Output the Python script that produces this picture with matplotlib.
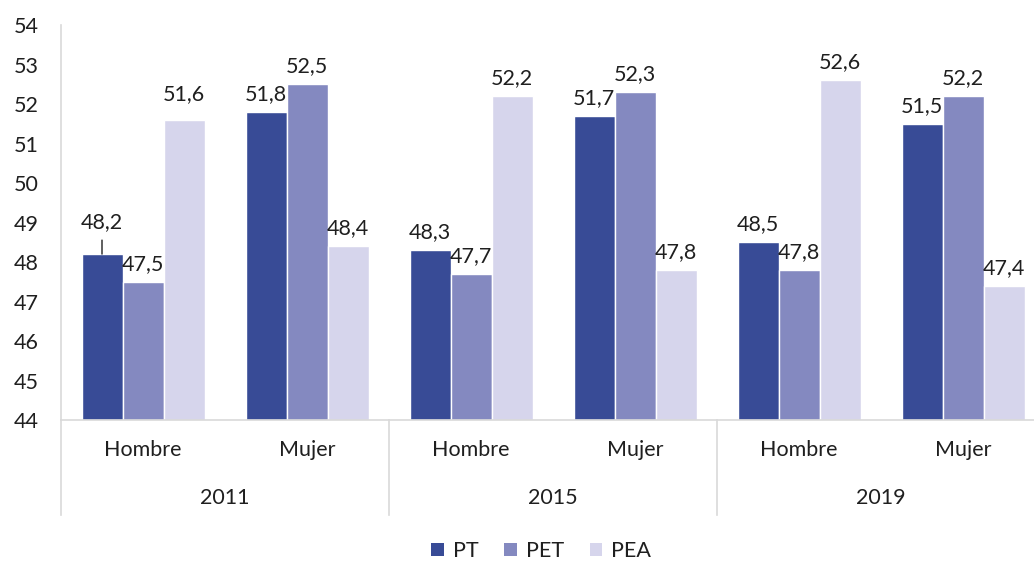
import matplotlib.pyplot as plt
from matplotlib.patches import Patch
import numpy as np

# datos
years = ['2011', '2015', '2019']
sexes = ['Hombre', 'Mujer']
series = ['PT', 'PET', 'PEA']
pt = [48.2, 51.8, 48.3, 51.7, 48.5, 51.5]
pet = [47.5, 52.5, 47.7, 52.3, 47.8, 52.2]
pea = [51.6, 48.4, 52.2, 47.8, 52.6, 47.4]

colors = ['#384B96', '#8489C0', '#D6D5EC']
txt = '#1f1f1f'
grid = '#D9D9D9'
fs = 15.5

plt.rcParams['font.family'] = ['Lato', 'DejaVu Sans']

fig = plt.figure(figsize=(10.34, 5.62), dpi=100)
W, H = 1034, 562
ax = fig.add_axes([61 / W, 1 - 420 / H, 984 / W, 395 / H])

n = len(pt)
x = np.arange(n) + 0.5
bw = 0.25
all_vals = [pt, pet, pea]

# desplazamientos especiales de etiquetas (pixeles sobre la barra)
extra = {(2, 0): 20}

for k, vals in enumerate(all_vals):
    xs = x + (k - 1) * bw
    ax.bar(xs, np.array(vals) - 44, bottom=44, width=bw, color=colors[k],
           edgecolor='white', linewidth=1, label=series[k])
    for i, (xi, v) in enumerate(zip(xs, vals)):
        lab = f'{v:.1f}'.replace('.', ',')
        if k == 0 and i == 0:
            # etiqueta desplazada con línea guía
            ax.annotate(lab, (xi, v), xytext=(0, 26 * 0.72), textcoords='offset points',
                        ha='center', va='baseline', fontsize=fs, color=txt)
            ax.annotate('', (xi, v), xytext=(0, 14 * 0.72), textcoords='offset points',
                        arrowprops=dict(arrowstyle='-', color=txt, lw=1, shrinkA=0, shrinkB=0))
            continue
        off = extra.get((k, i), 12)
        ax.annotate(lab, (xi, v), xytext=(0, off * 0.72), textcoords='offset points',
                    ha='center', va='baseline', fontsize=fs, color=txt)

ax.set_xlim(0, n)
ax.set_ylim(44, 54)
ax.set_yticks(range(44, 55))
ax.set_xticks([])
ax.tick_params(axis='y', length=0, pad=16, labelsize=fs, labelcolor=txt)
for s in ['top', 'right']:
    ax.spines[s].set_visible(False)
ax.spines['left'].set_color(grid)
ax.spines['bottom'].set_color(grid)
ax.spines['left'].set_linewidth(1.2)
ax.spines['bottom'].set_linewidth(1.2)

trans = ax.get_xaxis_transform()
low = -95 / 395
for j in range(len(years) + 1):
    ax.plot([2 * j, 2 * j], [0, low], transform=trans, color=grid, lw=1.2, clip_on=False)

for i in range(n):
    ax.text(x[i], -30 / 395, sexes[i % 2], transform=trans, ha='center', va='center',
            fontsize=fs, color=txt)
for j, yr in enumerate(years):
    ax.text(2 * j + 1, -78 / 395, yr, transform=trans, ha='center', va='center',
            fontsize=fs, color=txt)

handles = [Patch(facecolor=c, label=s) for c, s in zip(colors, series)]
fig.legend(handles=handles, loc='center', bbox_to_anchor=(541 / W, 1 - 551 / H), ncol=3,
           frameon=False, fontsize=fs, handlelength=0.6, handleheight=0.6,
           handletextpad=0.4, columnspacing=1.2, labelcolor=txt)

fig.savefig('out.png', dpi=100)
